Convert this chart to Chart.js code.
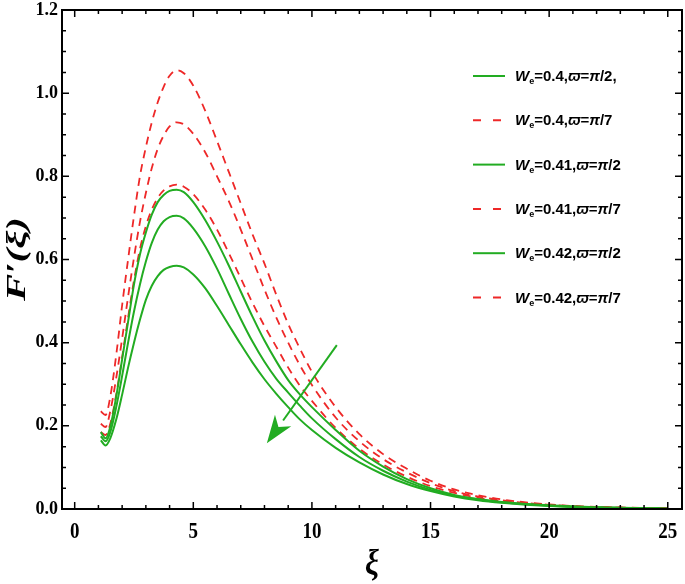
<!DOCTYPE html>
<html lang="en">
<head>
    <meta charset="UTF-8">
    <title>F'(xi) profiles</title>
    <script src="https://cdn.jsdelivr.net/npm/chart.js"></script>
    <style>
        html, body { margin: 0; padding: 0; background: #fff; }
        #wrap { width: 685px; height: 584px; position: relative; }
    </style>
</head>
<body>
    <div id="wrap"><canvas id="chart"></canvas></div>

    <script>
        const xi = [1.1, 1.3, 1.5, 1.75, 2, 2.25, 2.5, 2.75, 3, 3.25, 3.5, 3.75, 4, 4.3, 4.6, 5, 5.5, 6, 6.5, 7,
                    7.5, 8, 8.5, 9, 9.5, 10, 11, 12, 13, 14, 15, 16, 17, 18, 20, 22, 25];

        // We=0.4, pi/2
        const g040 = [0.185, 0.17, 0.198, 0.27, 0.36, 0.45, 0.54, 0.612, 0.665, 0.708, 0.738, 0.755, 0.765, 0.768, 0.762, 0.738, 0.695, 0.643, 0.585, 0.523,
                      0.462, 0.405, 0.355, 0.31, 0.275, 0.245, 0.19, 0.14, 0.102, 0.072, 0.05, 0.034, 0.024, 0.017, 0.009, 0.0045, 0.0015];
        // We=0.4, pi/7
        const r040 = [0.235, 0.226, 0.27, 0.37, 0.49, 0.60, 0.705, 0.80, 0.87, 0.93, 0.978, 1.015, 1.042, 1.055, 1.048, 1.018, 0.958, 0.885, 0.81, 0.735,
                      0.66, 0.59, 0.515, 0.445, 0.385, 0.33, 0.245, 0.18, 0.132, 0.097, 0.068, 0.047, 0.033, 0.023, 0.011, 0.005, 0.0018];
        // We=0.41, pi/2
        const g041 = [0.175, 0.163, 0.185, 0.245, 0.32, 0.40, 0.475, 0.54, 0.595, 0.64, 0.672, 0.692, 0.702, 0.705, 0.699, 0.675, 0.632, 0.578, 0.517, 0.457,
                      0.402, 0.354, 0.313, 0.28, 0.248, 0.218, 0.168, 0.125, 0.092, 0.066, 0.046, 0.032, 0.023, 0.016, 0.008, 0.004, 0.0015];
        // We=0.41, pi/7
        const r041 = [0.205, 0.197, 0.235, 0.315, 0.41, 0.51, 0.605, 0.69, 0.76, 0.82, 0.866, 0.898, 0.92, 0.93, 0.925, 0.902, 0.858, 0.80, 0.74, 0.672,
                      0.60, 0.528, 0.46, 0.40, 0.345, 0.298, 0.22, 0.163, 0.12, 0.088, 0.062, 0.043, 0.03, 0.021, 0.01, 0.0045, 0.0016];
        // We=0.42, pi/2
        const g042 = [0.165, 0.153, 0.17, 0.215, 0.275, 0.34, 0.40, 0.455, 0.503, 0.537, 0.56, 0.575, 0.582, 0.585, 0.581, 0.564, 0.531, 0.488, 0.442, 0.396,
                      0.352, 0.312, 0.277, 0.245, 0.215, 0.19, 0.147, 0.112, 0.083, 0.06, 0.043, 0.03, 0.021, 0.015, 0.007, 0.0035, 0.0012];
        // We=0.42, pi/7
        const r042 = [0.185, 0.178, 0.205, 0.275, 0.365, 0.46, 0.55, 0.625, 0.68, 0.72, 0.748, 0.766, 0.776, 0.78, 0.775, 0.757, 0.72, 0.672, 0.615, 0.555,
                      0.495, 0.44, 0.39, 0.34, 0.296, 0.26, 0.195, 0.145, 0.107, 0.078, 0.055, 0.039, 0.027, 0.019, 0.009, 0.004, 0.0015];

        const seriesLabels = ['W_e=0.4,ϖ=π/2,', 'W_e=0.4,ϖ=π/7', 'W_e=0.41,ϖ=π/2', 'W_e=0.41,ϖ=π/7', 'W_e=0.42,ϖ=π/2', 'W_e=0.42,ϖ=π/7'];
        const seriesValues = [g040, r040, g041, r041, g042, r042];

        const xTicks = [0, 5, 10, 15, 20, 25];
        const yTicks = [0.0, 0.2, 0.4, 0.6, 0.8, 1.0, 1.2];

        // arrow (data coords): tail, head
        const arrowFrom = [11.05, 0.394];
        const arrowTo = [8.1, 0.158];

        const GREEN = 'rgb(34,172,34)';
        const RED = 'rgb(238,40,40)';

        const datasets = seriesValues.map((vals, i) => {
            const isRed = i % 2 === 1;
            return {
                label: seriesLabels[i],
                data: xi.map((x, k) => ({ x: x, y: vals[k] })),
                borderColor: isRed ? RED : GREEN,
                borderWidth: isRed ? 1.8 : 2,
                borderDash: isRed ? [8, 6] : [],
                pointRadius: 0,
                fill: false,
                cubicInterpolationMode: 'monotone'
            };
        });

        const framePlugin = {
            id: 'frame',
            afterDatasetsDraw(chart) {
                const { ctx, chartArea: a, scales: { x, y } } = chart;
                ctx.save();

                // arrow
                const x1 = x.getPixelForValue(arrowFrom[0]), y1 = y.getPixelForValue(arrowFrom[1]);
                const x2 = x.getPixelForValue(arrowTo[0]), y2 = y.getPixelForValue(arrowTo[1]);
                const ang = Math.atan2(y2 - y1, x2 - x1);
                const headLen = 28, headW = 10;
                const bx = x2 - headLen * Math.cos(ang), by = y2 - headLen * Math.sin(ang);
                ctx.strokeStyle = GREEN;
                ctx.fillStyle = GREEN;
                ctx.lineWidth = 2;
                ctx.beginPath();
                ctx.moveTo(x1, y1);
                ctx.lineTo(bx, by);
                ctx.stroke();
                ctx.beginPath();
                ctx.moveTo(x2, y2);
                ctx.lineTo(bx + headW * Math.sin(ang), by - headW * Math.cos(ang));
                ctx.lineTo(x2 - (headLen - 8) * Math.cos(ang), y2 - (headLen - 8) * Math.sin(ang));
                ctx.lineTo(bx - headW * Math.sin(ang), by + headW * Math.cos(ang));
                ctx.closePath();
                ctx.fill();

                // frame
                ctx.strokeStyle = '#000';
                ctx.lineWidth = 2;
                ctx.strokeRect(a.left, a.top, a.right - a.left, a.bottom - a.top);

                // ticks, pointing inward on all four sides
                ctx.lineWidth = 1.5;
                ctx.beginPath();
                for (let v = 0; v <= 25; v++) {
                    const px = x.getPixelForValue(v);
                    const len = xTicks.includes(v) ? 7 : 4;
                    ctx.moveTo(px, a.bottom); ctx.lineTo(px, a.bottom - len);
                    ctx.moveTo(px, a.top); ctx.lineTo(px, a.top + len);
                }
                for (let k = 0; k <= 24; k++) {
                    const py = y.getPixelForValue(k * 0.05);
                    const len = k % 4 === 0 ? 7 : 4;
                    ctx.moveTo(a.left, py); ctx.lineTo(a.left + len, py);
                    ctx.moveTo(a.right, py); ctx.lineTo(a.right - len, py);
                }
                ctx.stroke();

                // tick labels (slightly tall, like the source image)
                ctx.fillStyle = '#000';
                ctx.font = 'bold 20px "Liberation Serif"';
                ctx.textAlign = 'center';
                ctx.textBaseline = 'top';
                xTicks.forEach(v => {
                    ctx.save();
                    ctx.translate(x.getPixelForValue(v), a.bottom + 12);
                    ctx.scale(0.95, 1.15);
                    ctx.fillText(String(v), 0, 0);
                    ctx.restore();
                });
                ctx.font = 'bold 18px "Liberation Serif"';
                ctx.textAlign = 'right';
                ctx.textBaseline = 'middle';
                yTicks.forEach(v => ctx.fillText(v.toFixed(1), a.left - 4, y.getPixelForValue(v)));

                // axis titles
                ctx.save();
                ctx.translate((a.left + a.right) / 2 + 0, 574);
                ctx.scale(1, 1.15);
                ctx.font = 'italic bold 31px "Liberation Serif"';
                ctx.textAlign = 'center';
                ctx.textBaseline = 'alphabetic';
                ctx.fillText('ξ', 0, 0);
                ctx.restore();

                ctx.save();
                ctx.translate(25, 259);
                ctx.rotate(-Math.PI / 2);
                ctx.scale(1.45, 1);
                ctx.font = 'italic bold 28px "Liberation Serif"';
                ctx.textAlign = 'center';
                ctx.textBaseline = 'alphabetic';
                ctx.fillText('F\u2032(ξ)', 0, 0);
                ctx.restore();

                // legend
                const lx = 473, ty0 = 76, dy = 44.3;
                chart.data.datasets.forEach((ds, i) => {
                    const ly = ty0 + i * dy;
                    ctx.strokeStyle = ds.borderColor;
                    ctx.lineWidth = 2;
                    ctx.setLineDash(ds.borderDash.length ? [8, 12] : []);
                    ctx.beginPath();
                    ctx.moveTo(lx, ly); ctx.lineTo(lx + 32, ly);
                    ctx.stroke();
                    ctx.setLineDash([]);
                    drawLabel(ctx, ds.label, 515, ly + 5);
                });

                ctx.restore();
            }
        };

        function drawLabel(ctx, text, x0, base) {
            ctx.fillStyle = '#000';
            ctx.textAlign = 'left';
            ctx.textBaseline = 'alphabetic';
            let cx = x0;
            for (let i = 0; i < text.length; i++) {
                const ch = text[i];
                if (ch === '_') {
                    ctx.font = 'bold 9px "Liberation Sans"';
                    ctx.fillText(text[i + 1], cx, base + 3);
                    cx += ctx.measureText(text[i + 1]).width;
                    i++;
                    continue;
                }
                const italic = (ch === 'W' || ch === 'ϖ' || ch === 'π');
                ctx.font = (italic ? 'italic ' : '') + 'bold 15px "Liberation Sans"';
                ctx.fillText(ch, cx, base);
                cx += ctx.measureText(ch).width;
            }
        }

        new Chart(document.getElementById('chart'), {
            type: 'line',
            data: { datasets: datasets },
            options: {
                responsive: true,
                maintainAspectRatio: false,
                animation: false,
                layout: { padding: { left: 62, right: 3, top: 10, bottom: 75 } },
                plugins: {
                    legend: { display: false },
                    tooltip: { enabled: false }
                },
                scales: {
                    x: { type: 'linear', min: -0.535, max: 25.6, display: false },
                    y: { type: 'linear', min: 0, max: 1.2, display: false }
                }
            },
            plugins: [framePlugin]
        });
    </script>
</body>
</html>
